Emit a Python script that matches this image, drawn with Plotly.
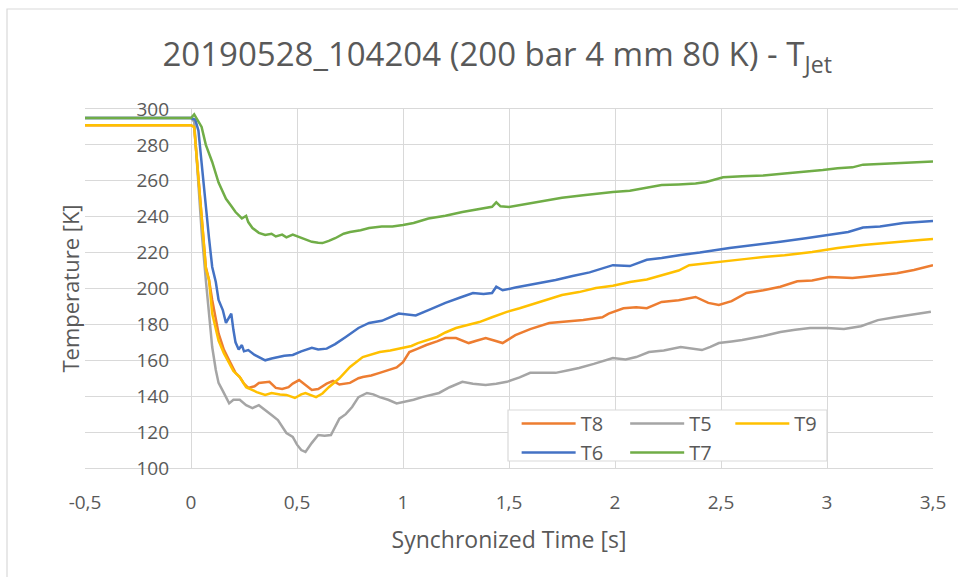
import plotly.graph_objects as go

# ---- measured series: time [s] and temperature [K] ----
t_T8 = [-0.5, 0.0, 0.015, 0.03, 0.05, 0.07, 0.085, 0.10, 0.13, 0.155, 0.18, 0.21, 0.23, 0.25, 0.27, 0.30,
        0.32, 0.35, 0.37, 0.40, 0.43, 0.46, 0.48, 0.51, 0.54, 0.57, 0.60, 0.64, 0.67, 0.70, 0.75, 0.79,
        0.81, 0.85, 0.89, 0.93, 0.97, 1.00, 1.03, 1.07, 1.11, 1.16, 1.20, 1.25, 1.31, 1.35, 1.39, 1.43,
        1.47, 1.53, 1.60, 1.69, 1.77, 1.85, 1.94, 1.97, 2.04, 2.10, 2.15, 2.22, 2.30, 2.38, 2.44, 2.49,
        2.55, 2.62, 2.70, 2.78, 2.86, 2.93, 3.01, 3.07, 3.12, 3.18, 3.25, 3.33, 3.41, 3.5]
T8 = [291, 291, 290, 270, 240, 212, 204.7, 193.6, 175, 166, 160, 153, 150.7, 147, 144.6, 145.5,
      147.4, 148, 148, 144.6, 144, 145, 147, 149, 146, 143.5, 144, 147, 148.5, 146.5, 147.4, 150,
      150.7, 151.5, 153, 154.5, 156, 159, 164.6, 166.5, 168.5, 170.5, 172.4, 172.4, 169.6, 171, 172.4, 171,
      169.6, 174, 177.4, 180.8, 181.5, 182.4, 184, 186, 189, 189.5, 189, 192.5, 193.5, 195.3, 192, 190.8,
      193, 197.5, 199, 201, 204, 204.5, 206.4, 206, 205.8, 206.5, 207.5, 208.5, 210.3, 213]

t_T5 = [-0.5, 0.0, 0.015, 0.03, 0.05, 0.07, 0.085, 0.10, 0.117, 0.13, 0.15, 0.165, 0.18, 0.20, 0.23, 0.26,
        0.29, 0.32, 0.35, 0.38, 0.41, 0.43, 0.45, 0.48, 0.50, 0.52, 0.54, 0.57, 0.60, 0.63, 0.66, 0.70,
        0.73, 0.76, 0.79, 0.83, 0.86, 0.89, 0.93, 0.97, 1.01, 1.05, 1.09, 1.13, 1.17, 1.22, 1.28, 1.33,
        1.39, 1.44, 1.49, 1.55, 1.60, 1.66, 1.72, 1.78, 1.83, 1.90, 1.99, 2.05, 2.10, 2.16, 2.23, 2.31,
        2.36, 2.41, 2.45, 2.49, 2.55, 2.60, 2.70, 2.78, 2.85, 2.92, 3.0, 3.08, 3.16, 3.24, 3.32, 3.40, 3.49]
T5 = [295, 295, 293, 265, 232, 204.7, 186, 167.4, 154.6, 147.4, 143, 139.5, 136, 138, 138, 135,
      133.4, 135, 132, 129.5, 126.7, 123, 119.5, 117.3, 113, 110, 109, 114, 118.4, 118, 118.4, 127.5,
      130, 134, 139.5, 141.8, 141, 139.5, 138, 136, 136.8, 138, 139.5, 140.5, 141.8, 145, 148, 147,
      146.2, 147, 148, 150.5, 153, 153, 153, 154.5, 155.7, 158, 161.3, 160.5, 161.8, 164.6, 165.5, 167.4,
      166.5, 165.7, 167.5, 169.6, 170.5, 171.3, 173.5, 175.8, 177, 178, 178, 177.4, 179, 182.4, 184, 185.5, 187]

t_T9 = [-0.5, 0.0, 0.015, 0.03, 0.05, 0.07, 0.085, 0.10, 0.115, 0.13, 0.155, 0.18, 0.20, 0.23, 0.26, 0.28,
        0.31, 0.35, 0.38, 0.42, 0.45, 0.49, 0.52, 0.54, 0.57, 0.59, 0.62, 0.65, 0.70, 0.75, 0.81, 0.85,
        0.89, 0.94, 0.99, 1.04, 1.07, 1.12, 1.16, 1.20, 1.25, 1.30, 1.36, 1.42, 1.49, 1.55, 1.60, 1.68,
        1.75, 1.83, 1.91, 1.99, 2.07, 2.15, 2.22, 2.30, 2.35, 2.42, 2.48, 2.54, 2.62, 2.70, 2.80, 2.93,
        3.05, 3.17, 3.26, 3.36, 3.44, 3.5]
T9 = [291, 291, 290, 270, 240, 211, 204.7, 186, 178, 171, 164, 158.5, 154, 150.7, 145, 144,
      142.3, 140.7, 141.8, 141, 140.7, 139, 141, 141.8, 140.5, 139.5, 141.5, 145, 150, 156.3, 161.8, 163,
      164.6, 165.5, 166.9, 168, 169.6, 171.5, 173, 175.5, 178, 179.5, 181.3, 184, 187, 189, 190.8, 193.5,
      196.4, 198, 200.3, 201.5, 203.6, 205, 207.5, 210, 213, 214, 214.8, 215.5, 216.5, 217.5, 218.5, 220.3,
      222.6, 224.2, 225, 226, 227, 227.6]

t_T6 = [-0.5, 0.0, 0.02, 0.035, 0.05, 0.07, 0.085, 0.10, 0.117, 0.13, 0.15, 0.165, 0.18, 0.19, 0.20, 0.21,
        0.225, 0.24, 0.25, 0.27, 0.30, 0.33, 0.35, 0.38, 0.41, 0.44, 0.48, 0.52, 0.57, 0.60, 0.64, 0.68,
        0.73, 0.79, 0.84, 0.90, 0.98, 1.02, 1.06, 1.12, 1.20, 1.27, 1.33, 1.38, 1.42, 1.44, 1.47, 1.53,
        1.60, 1.66, 1.72, 1.80, 1.88, 1.99, 2.07, 2.15, 2.22, 2.31, 2.40, 2.54, 2.65, 2.78, 2.90, 3.01,
        3.10, 3.17, 3.25, 3.36, 3.43, 3.5]
T6 = [295, 295, 294, 288, 270, 245, 228, 212, 203.6, 193.6, 188, 180.8, 184, 186, 177, 170,
      166, 168.5, 165, 165.7, 163, 161, 160, 161, 161.8, 162.5, 163, 165, 166.9, 166, 166.5, 169,
      173, 178, 180.8, 182, 186, 185.5, 185, 188, 192, 195, 197.5, 197, 197.5, 201, 199, 200.5,
      202, 203.5, 204.7, 207, 209, 213, 212.5, 216, 217, 218.7, 220, 222.6, 224, 226, 228, 229.8,
      231.5, 234, 234.5, 236.5, 237, 237.6]

t_T7 = [-0.5, 0.0, 0.015, 0.025, 0.035, 0.05, 0.07, 0.10, 0.13, 0.165, 0.19, 0.21, 0.24, 0.26, 0.27, 0.29,
        0.32, 0.35, 0.38, 0.40, 0.43, 0.45, 0.48, 0.51, 0.54, 0.57, 0.60, 0.62, 0.65, 0.68, 0.72, 0.75,
        0.80, 0.84, 0.90, 0.95, 1.0, 1.05, 1.12, 1.2, 1.28, 1.35, 1.42, 1.44, 1.46, 1.5, 1.58, 1.66,
        1.75, 1.85, 1.92, 1.99, 2.07, 2.15, 2.22, 2.3, 2.38, 2.43, 2.51, 2.6, 2.7, 2.8, 2.9, 2.98,
        3.05, 3.12, 3.17, 3.25, 3.35, 3.42, 3.5]
T7 = [295, 295, 297, 295, 293, 290, 280, 270.5, 259, 250, 246, 242.6, 239, 240.5, 237, 233.7,
      231, 229.8, 230.5, 229, 230, 228.5, 230, 228.7, 227.5, 226, 225.5, 225.3, 226.5, 228, 230.5, 231.5,
      232.5, 233.7, 234.5, 234.5, 235.4, 236.5, 239, 240.5, 242.6, 244, 245.5, 248, 245.8, 245.4, 247, 249,
      250.5, 252, 253, 253.8, 254.5, 256, 257.7, 258, 258.5, 259.3, 262, 262.5, 263, 264, 265, 266,
      267, 267.5, 269, 269.5, 270, 270.5, 270.8]

x_ticks = [-0.5, 0, 0.5, 1, 1.5, 2, 2.5, 3, 3.5]
x_ticktext = ["-0,5", "0", "0,5", "1", "1,5", "2", "2,5", "3", "3,5"]
y_ticks = [100, 120, 140, 160, 180, 200, 220, 240, 260, 280, 300]

# legend columns: (T8, T6) | (T5, T7) | (T9)
series = [
    ("T8", t_T8, T8, "#ED7D31", "legend"),
    ("T5", t_T5, T5, "#A5A5A5", "legend2"),
    ("T9", t_T9, T9, "#FFC000", "legend3"),
    ("T6", t_T6, T6, "#4472C4", "legend"),
    ("T7", t_T7, T7, "#70AD47", "legend2"),
]

TEXT = "#595959"
GRID = "#D9D9D9"
FONT = "Open Sans"

fig = go.Figure()
for name, tx, ty, color, lg in series:
    fig.add_trace(go.Scatter(x=tx, y=ty, mode="lines", name=name, legend=lg,
                             line=dict(color=color, width=2.5)))

legend_common = dict(orientation="v", xanchor="left", yanchor="top",
                     bgcolor="rgba(0,0,0,0)", borderwidth=0, itemwidth=54,
                     traceorder="normal", tracegroupgap=0,
                     font=dict(family=FONT, size=20, color=TEXT))
legend_top = 0.178

fig.update_layout(
    width=958, height=577,
    margin=dict(l=85, r=25, t=109, b=109),
    paper_bgcolor="white", plot_bgcolor="white",
    font=dict(family=FONT, color=TEXT),
    title=dict(text="20190528_104204 (200 bar 4 mm 80 K) - T<sub>Jet</sub>",
               x=0.519, xanchor="center", y=0.905, yanchor="middle",
               font=dict(family=FONT, size=33, color=TEXT)),
    legend=dict(x=0.509, y=legend_top, **legend_common),
    legend2=dict(x=0.637, y=legend_top, **legend_common),
    legend3=dict(x=0.761, y=legend_top, **legend_common),
    xaxis=dict(range=[-0.5, 3.5], tickvals=x_ticks, ticktext=x_ticktext,
               showgrid=True, gridcolor=GRID, gridwidth=1, zeroline=False,
               showline=True, linecolor=GRID, mirror=True, ticks="",
               ticklabelstandoff=17,
               tickfont=dict(family=FONT, size=19, color=TEXT),
               title=dict(text="Synchronized Time [s]", standoff=18,
                          font=dict(family=FONT, size=23, color=TEXT))),
    yaxis=dict(range=[100, 300], tickvals=y_ticks, anchor="free", position=0.125,
               showgrid=True, gridcolor=GRID, gridwidth=1, zeroline=False,
               showline=False, ticks="", ticklabelstandoff=22,
               tickfont=dict(family=FONT, size=19, color=TEXT),
               title=dict(text="Temperature [K]", standoff=49,
                          font=dict(family=FONT, size=22, color=TEXT))),
    showlegend=True,
)

# legend frame with white fill
fig.add_shape(type="rect", xref="paper", yref="paper",
              x0=(508 - 85) / 848, x1=(827 - 85) / 848,
              y0=(468 - 461) / 359, y1=(468 - 410) / 359,
              line=dict(color=GRID, width=1.2), fillcolor="white", layer="above")

# outer chart-area border
fig.add_shape(type="rect", xref="paper", yref="paper",
              x0=(7 - 85) / 848, x1=(975 - 85) / 848,
              y0=(468 - 600) / 359, y1=(468 - 9) / 359,
              line=dict(color=GRID, width=1.2), fillcolor="rgba(0,0,0,0)", layer="below")

fig.write_html("out.html")
